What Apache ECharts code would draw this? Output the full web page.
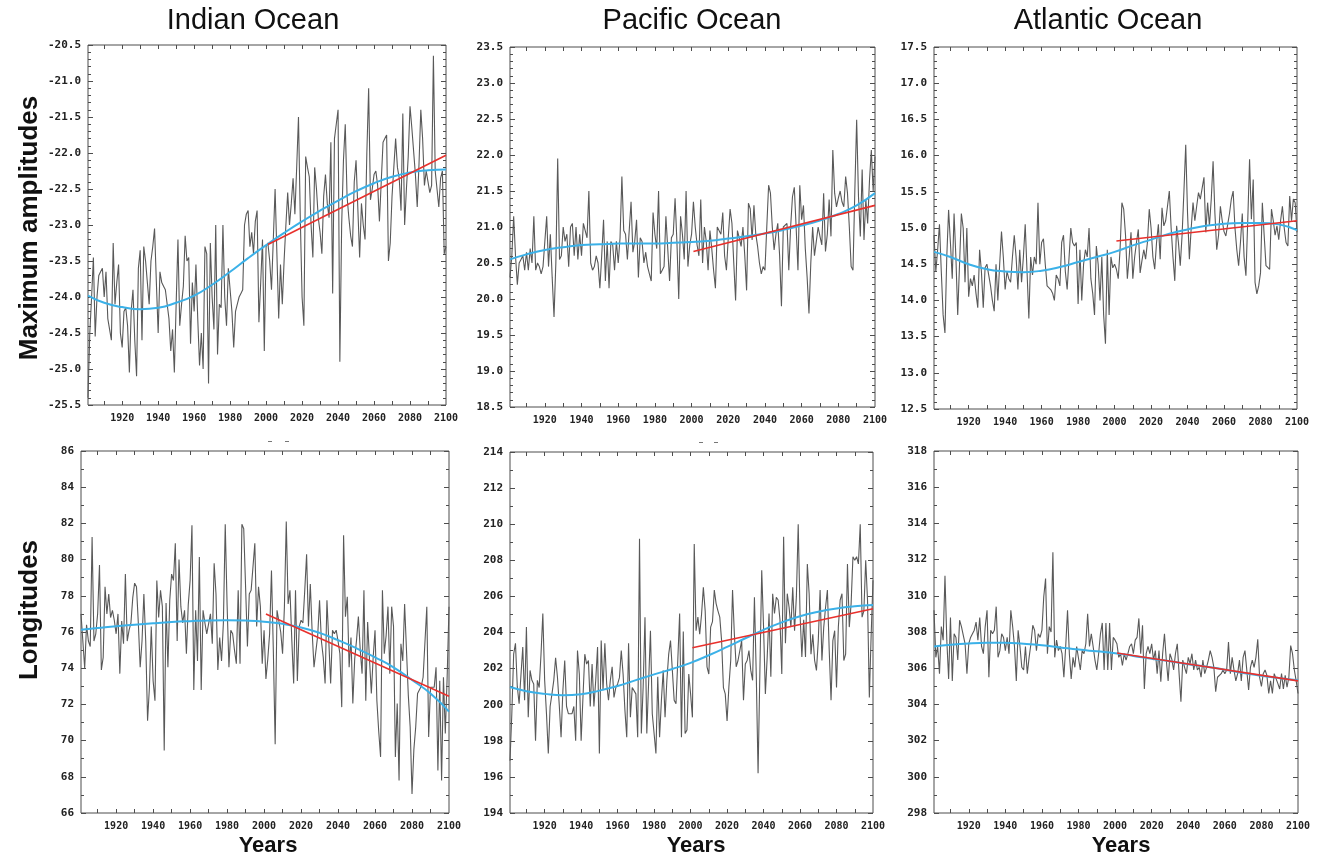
<!DOCTYPE html>
<html>
<head>
<meta charset="utf-8">
<script src="https://cdn.jsdelivr.net/npm/echarts@6/dist/echarts.min.js"></script>
<style>
  html, body { margin: 0; padding: 0; background: #ffffff; }
  #chart { width: 1323px; height: 861px; }
</style>
</head>
<body>
<div id="chart"></div>
<script>
// Yearly series run from 1901 to 2100
const firstYear = 1901;
const lastYear = 2100;

// Column and row headings
const oceanNames = ['Indian Ocean', 'Pacific Ocean', 'Atlantic Ocean'];
const rowNames = ['Maximum amplitudes', 'Longitudes'];
const xAxisName = 'Years';

// x-axis tick marks (every decade) and labelled years
const yearTicks = [1910, 1920, 1930, 1940, 1950, 1960, 1970, 1980, 1990, 2000,
                   2010, 2020, 2030, 2040, 2050, 2060, 2070, 2080, 2090];
const yearLabels = [1920, 1940, 1960, 1980, 2000, 2020, 2040, 2060, 2080, 2100];

// y-axis ranges: [min, max, step]
const indianAmpRange = [-25.5, -20.5, 0.5];
const pacificAmpRange = [18.5, 23.5, 0.5];
const atlanticAmpRange = [12.5, 17.5, 0.5];
const indianLonRange = [66, 86, 2];
const pacificLonRange = [194, 214, 2];
const atlanticLonRange = [298, 318, 2];

// Annual maximum amplitudes, 1901-2100
const indianAmp = [
  -25.4, -24.5, -24.0, -23.45, -24.55, -24.0, -23.7, -23.65, -23.6, -24.0,
  -23.65, -24.3, -24.45, -24.6, -23.25, -24.1, -23.8, -23.55, -24.5, -24.7,
  -24.2, -24.15, -24.4, -25.05, -24.2, -23.9, -24.6, -25.1, -23.6, -23.35,
  -24.6, -23.3, -23.5, -23.8, -24.1, -23.5, -23.3, -23.05, -23.8, -24.5,
  -23.65, -23.8, -23.85, -23.9, -24.1, -24.3, -24.75, -24.45, -25.05, -24.1,
  -23.2, -24.4, -24.1, -23.85, -23.15, -23.5, -23.45, -24.65, -23.8, -24.2,
  -23.55, -24.3, -24.95, -24.5, -25.0, -23.3, -23.4, -25.2, -23.25, -24.0,
  -24.45, -23.0, -24.8, -24.1, -24.15, -23.0, -24.0, -24.4, -23.6, -23.6,
  -24.2, -24.7, -24.2, -24.1, -24.0, -23.95, -23.9, -23.0, -22.85, -22.8,
  -23.3, -23.1, -23.4, -22.95, -22.8, -24.35, -23.8, -23.2, -24.75, -23.3,
  -23.25, -23.5, -23.9, -23.2, -22.5, -23.4, -24.3, -23.55, -24.1, -23.5,
  -23.0, -22.55, -23.0, -22.7, -22.35, -22.85, -22.2, -21.5, -22.9, -24.0,
  -24.4, -22.05, -22.2, -22.33, -23.0, -23.45, -22.2, -22.5, -22.9, -23.1,
  -23.4, -22.6, -22.3, -22.7, -22.9, -21.85, -23.95, -21.8, -21.6, -21.4,
  -24.9, -23.0, -22.1, -21.6, -22.6, -22.9, -23.15, -23.3, -22.4, -22.1,
  -22.1, -23.45, -22.7, -23.0, -23.2, -22.0, -21.1, -22.65, -22.5, -22.3,
  -22.25, -22.45, -22.95, -22.4, -21.85, -21.8, -21.75, -23.5, -23.25, -22.6,
  -22.2, -21.8, -22.2, -22.35, -22.8, -21.45, -23.0, -22.5, -22.05, -21.35,
  -21.65, -21.65, -22.3, -22.75, -22.15, -21.4, -21.8, -22.45, -22.25, -22.25,
  -22.55, -22.45, -20.65, -22.25, -22.5, -22.75, -22.35, -22.25, -23.4, -23.3
];
const pacificAmp = [
  20.3, 20.6, 21.15, 20.6, 20.2, 20.5, 20.55, 20.6, 20.4, 20.65,
  20.4, 20.7, 20.5, 21.15, 20.4, 20.5, 20.45, 20.35, 20.45, 20.8,
  21.15, 20.45, 20.9, 20.3, 19.75, 20.5, 21.95, 20.55, 20.6, 21.0,
  20.8, 20.9, 20.45, 21.0, 21.05, 20.6, 21.0, 20.55, 20.9, 20.6,
  21.05, 20.95, 20.85, 21.5, 20.5, 20.4, 20.45, 20.6, 20.5, 20.15,
  20.6, 21.1, 20.25, 20.8, 20.15, 20.8, 20.75, 20.4, 20.8, 20.5,
  20.85, 21.7, 20.95, 20.9, 20.55, 20.55, 21.35, 20.65, 20.8, 21.1,
  20.3, 20.85, 20.8, 20.5, 20.65, 20.45, 20.35, 20.25, 21.2, 20.9,
  20.7, 21.5, 20.35, 20.4, 20.45, 21.15, 20.7, 20.25, 20.85, 20.9,
  21.4, 20.8, 20.0, 21.15, 20.9, 20.55, 21.5, 20.45, 20.75, 20.9,
  21.35, 21.0, 20.75, 20.6, 21.38, 20.5, 21.0, 20.8, 20.4, 20.95,
  20.7, 20.4, 20.15, 21.0, 21.0, 20.9, 21.2, 20.6, 20.4, 20.85,
  21.25, 21.05, 20.5, 19.98, 20.95, 20.85, 20.73, 21.0, 20.6, 20.12,
  21.33, 21.25, 20.82, 21.3, 20.9, 20.73, 20.5, 20.35, 20.45, 20.4,
  21.0, 21.58, 21.47, 21.0, 20.68, 20.9, 21.05, 20.6, 19.9, 21.0,
  21.0, 21.05, 20.4, 21.0, 21.42, 21.55, 21.0, 20.4, 21.58, 21.1,
  21.3, 20.7, 20.3, 19.8, 20.5, 21.0, 20.6, 20.8, 21.0, 20.87,
  20.75, 21.47, 20.66, 20.9, 21.38, 20.87, 22.07, 21.47, 21.28, 21.4,
  21.5, 21.35, 21.28, 21.7, 21.47, 21.0, 20.45, 20.4, 21.5, 22.49,
  21.42, 20.87, 21.8, 20.82, 21.38, 21.05, 21.65, 22.07, 21.5, 21.98
];
const atlanticAmp = [
  14.9, 14.4, 14.7, 15.05, 14.4, 13.8, 13.55, 14.6, 15.25, 14.8,
  14.3, 15.2, 14.6, 13.8, 14.5, 15.2, 15.0, 14.25, 15.0, 14.05,
  14.3, 14.2, 14.35, 14.1, 13.9, 14.7, 14.4, 13.9, 14.45, 14.5,
  14.35, 14.2, 14.0, 13.85, 14.5, 14.0, 14.5, 14.95, 14.6, 14.15,
  14.4, 14.3, 14.25, 14.6, 14.9, 14.6, 14.15, 14.7, 14.25, 14.6,
  15.05, 14.4, 13.75, 14.6, 14.35, 14.6, 14.5, 15.35, 14.5, 14.8,
  14.85, 14.5, 14.2, 14.2, 14.15, 14.1, 14.0, 14.35, 14.3, 14.2,
  14.8, 14.9, 14.4, 14.15, 14.15, 15.0, 14.8, 14.75, 14.8, 13.95,
  14.7, 14.0, 14.5, 14.7, 14.6, 15.0, 14.3, 14.1, 13.8, 14.75,
  14.5, 14.0, 14.6, 13.8, 13.4, 14.7, 13.8, 14.6, 14.45, 14.5,
  14.43, 14.3, 14.7, 15.35, 15.26, 14.9, 14.3, 14.6, 14.94, 14.3,
  14.6, 14.8, 14.98, 14.38, 14.55, 14.7, 14.57, 14.8, 15.26, 15.0,
  14.6, 14.43, 14.8, 15.05, 14.57, 15.28, 15.03, 15.1, 15.3, 15.51,
  15.0, 14.6, 14.27, 15.03, 14.8, 14.48, 14.9, 15.5, 16.15, 15.2,
  14.57, 15.0, 15.35, 15.1, 15.3, 15.49, 15.4, 15.55, 15.7, 14.94,
  15.35, 15.03, 15.4, 15.92, 15.2, 14.7, 14.9, 15.3, 15.1, 14.95,
  14.89, 15.05, 15.2, 15.4, 15.51, 15.0, 14.7, 14.48, 14.8, 15.2,
  14.6, 14.34, 15.1, 15.95, 15.12, 15.67, 14.25, 14.09, 14.2, 14.38,
  15.35, 14.9, 14.48, 14.5, 14.43, 15.26, 15.1, 14.9, 15.03, 14.84,
  15.1, 15.3, 15.0, 14.8, 14.75, 15.44, 15.1, 15.4, 15.35, 14.94
];

// Annual longitudes of the maximum, 1901-2100
const indianLon = [
  77.0, 76.9, 74.0, 76.4, 75.5, 75.2, 81.25, 75.5, 75.9, 77.0,
  79.7, 73.9, 74.6, 78.5, 77.0, 78.1, 76.8, 77.2, 76.65, 75.9,
  77.0, 73.7, 76.6, 75.35, 79.2, 75.5, 76.1, 76.5, 77.9, 78.7,
  78.5, 76.5, 74.05, 75.5, 78.1, 75.5, 71.1, 72.95, 76.3, 73.3,
  72.2, 78.85, 76.8, 78.3, 77.4, 69.45, 77.6, 74.05, 77.75, 79.2,
  78.85, 80.9, 75.5, 80.0, 77.4, 76.5, 77.2, 74.8, 77.5, 78.85,
  81.9, 72.8, 77.2, 74.4, 80.15, 72.8, 77.2, 76.5, 75.9, 75.9,
  77.0, 75.35, 79.8, 78.1, 73.9, 75.7, 74.4, 76.5, 81.95, 77.5,
  74.05, 76.1, 75.9, 75.0, 74.25, 78.3, 74.25, 81.95, 81.7, 78.5,
  75.2, 78.1, 78.3, 78.4, 80.9, 76.3, 78.5, 77.4, 74.25, 76.1,
  73.4, 74.5, 75.9, 79.4, 75.0, 69.8, 77.2, 77.1, 76.0, 74.8,
  77.4, 82.1, 77.55, 78.3, 75.55, 73.15, 78.3, 73.3, 76.3, 76.65,
  76.5, 78.3, 80.3, 76.3, 78.65, 76.0, 74.05, 74.05, 75.8, 77.75,
  75.5, 74.6, 73.15, 77.75, 75.5, 73.15, 76.1, 75.9, 76.1, 75.5,
  74.8, 71.85, 81.35, 76.85, 77.95, 74.05, 75.7, 72.05, 74.5, 75.55,
  76.85, 75.0, 73.7, 78.3, 72.2, 76.55, 74.5, 72.6, 74.6, 76.1,
  72.2, 70.5, 69.1, 78.3, 74.8, 75.8, 77.4, 73.7, 77.4, 76.3,
  69.1, 72.05, 67.8, 75.35, 74.4, 77.55, 77.55, 72.5, 70.75, 67.05,
  69.5, 70.75, 72.6, 72.6, 73.0, 73.5, 73.5, 77.4, 70.2, 72.95,
  73.0, 72.95, 74.05, 68.35, 73.3, 67.8, 73.5, 70.4, 73.5, 77.4
];
const pacificLon = [
  196.9, 199.5, 202.8, 203.4, 201.0, 200.05, 200.05, 203.2, 200.25, 204.3,
  199.3, 201.9, 201.35, 201.15, 198.0, 201.35, 200.95, 202.8, 205.05, 201.35,
  199.5, 197.3, 199.9, 200.6, 201.35, 202.6, 201.55, 200.0, 198.2, 200.8,
  202.45, 199.9, 199.5, 199.5, 199.5, 199.9, 198.0, 203.0, 201.7, 198.0,
  198.0, 202.8, 202.25, 202.45, 199.9, 202.25, 199.9, 201.35, 203.2, 197.3,
  203.55, 200.8, 203.4, 201.15, 200.25, 201.35, 202.1, 200.4, 200.95, 201.15,
  201.5, 203.0, 201.7, 199.7, 198.2, 203.4, 199.3, 200.95, 200.95, 200.6,
  198.2, 209.2, 198.4, 201.0, 204.85, 198.4, 198.4, 204.1, 199.5, 199.5,
  197.3, 201.55, 198.2, 200.25, 201.9, 199.3, 201.35, 202.8, 203.55, 201.9,
  200.25, 200.05, 202.5, 205.05, 198.2, 204.05, 198.4, 198.6, 201.7, 200.6,
  199.3, 208.9, 204.1, 204.85, 203.9, 205.0, 206.5, 205.2, 202.1, 201.7,
  204.3, 204.6, 206.35, 205.6, 205.2, 204.85, 203.55, 200.95, 200.6, 199.1,
  201.0, 202.45, 206.35, 203.9, 202.1, 202.45, 202.45, 203.55, 200.25, 202.25,
  202.45, 203.0, 201.9, 201.35, 205.95, 201.7, 196.2, 201.9, 207.45, 204.3,
  200.6, 202.65, 205.05, 201.55, 206.15, 205.05, 205.95, 205.8, 204.7, 201.7,
  209.3, 203.4, 206.15, 205.4, 204.3, 206.5, 204.1, 206.0, 210.0, 205.05,
  202.65, 204.7, 202.65, 207.8, 206.15, 202.8, 203.9, 202.45, 201.9, 203.55,
  206.35, 202.45, 204.3, 205.4, 206.35, 203.0, 200.25, 203.55, 204.1, 200.95,
  204.3, 205.8, 206.15, 202.45, 202.8, 207.8, 204.3, 205.6, 208.2, 208.0,
  208.2, 207.8, 210.0, 204.85, 205.2, 208.0, 205.8, 200.4, 203.9, 206.9
];
const atlanticLon = [
  309.2, 306.6, 307.2, 305.7, 308.3, 307.55, 311.1, 307.55, 305.4, 308.8,
  305.3, 307.9, 307.7, 306.45, 308.65, 308.3, 308.3, 307.35, 305.7, 307.35,
  307.7, 307.8, 308.1, 308.55, 307.55, 308.8, 307.2, 306.8, 308.3, 309.2,
  305.5, 308.1, 307.9, 308.1, 309.4, 306.6, 306.97, 307.9, 307.7, 306.97,
  307.7, 306.8, 309.2, 308.3, 307.2, 305.3, 308.1, 307.2, 306.05, 305.9,
  307.2, 305.7, 306.6, 307.35, 308.37, 308.1, 306.97, 307.9, 307.7, 308.1,
  309.95, 310.95, 306.8, 308.3, 308.0, 312.4, 306.6, 307.55, 306.97, 307.2,
  306.8, 305.5, 307.2, 309.2, 306.8, 305.4, 306.6, 306.05, 307.2, 307.2,
  305.9, 306.97, 306.8, 307.35, 309.0, 307.2, 307.9, 307.2, 306.45, 305.9,
  306.8, 307.9, 308.5, 305.9, 308.5, 305.9, 308.5, 305.9, 307.7, 307.55,
  307.35, 306.6, 306.8, 306.15, 306.8, 306.45, 306.8, 307.2, 307.35, 306.8,
  307.55, 307.7, 308.75, 306.8, 308.37, 304.85, 306.8, 307.2, 306.8, 307.35,
  306.45, 306.97, 305.7, 306.97, 305.25, 306.8, 307.9, 306.45, 305.3, 306.8,
  306.5, 305.9, 306.8, 307.35, 305.7, 304.15, 306.45, 306.05, 305.7, 306.6,
  306.25, 306.8, 305.9, 306.45, 305.9, 306.05, 305.5, 306.45, 305.7, 306.05,
  306.45, 306.97, 306.6, 306.05, 304.7, 305.5, 305.5, 305.7, 305.9, 305.7,
  305.9, 307.45, 305.7, 306.6, 305.9, 305.3, 305.7, 306.45, 305.3, 306.6,
  306.97, 305.9, 304.8, 306.05, 306.45, 306.05, 306.6, 307.6, 305.5, 305.0,
  305.7, 305.9, 305.6, 304.6, 305.3, 304.6, 305.7, 305.7, 305.15, 304.85,
  305.7, 304.85, 305.6, 304.95, 305.5, 307.25, 306.8, 305.9, 305.3, 304.6
];

// Smooth fitted curves, sampled at these years
const fitYears = [1901, 1910, 1920, 1930, 1940, 1950, 1960, 1970, 1980, 1990, 2000,
                  2010, 2020, 2030, 2040, 2050, 2060, 2070, 2080, 2090, 2100];
const indianAmpFit = [-23.98, -24.08, -24.14, -24.17, -24.15, -24.08, -23.98, -23.83, -23.65, -23.46, -23.28,
                      -23.11, -22.95, -22.8, -22.66, -22.53, -22.42, -22.33, -22.27, -22.24, -22.23];
const pacificAmpFit = [20.55, 20.62, 20.68, 20.72, 20.75, 20.76, 20.77, 20.77, 20.77, 20.78, 20.79,
                       20.81, 20.84, 20.87, 20.91, 20.96, 21.02, 21.09, 21.18, 21.3, 21.47];
const atlanticAmpFit = [14.67, 14.6, 14.5, 14.43, 14.4, 14.39, 14.41, 14.46, 14.53, 14.6, 14.67,
                        14.76, 14.84, 14.92, 14.98, 15.03, 15.06, 15.07, 15.07, 15.05, 14.97];
const indianLonFit = [76.13, 76.22, 76.32, 76.4, 76.48, 76.55, 76.6, 76.64, 76.65, 76.63, 76.57,
                      76.45, 76.25, 75.95, 75.55, 75.1, 74.6, 74.05, 73.35, 72.6, 71.6];
const pacificLonFit = [200.98, 200.75, 200.6, 200.52, 200.58, 200.78, 201.04, 201.36, 201.68, 201.98, 202.32,
                       202.74, 203.2, 203.68, 204.15, 204.56, 204.9, 205.15, 205.33, 205.45, 205.52];
const atlanticLonFit = [307.2, 307.3, 307.37, 307.4, 307.4, 307.35, 307.27, 307.15, 307.03, 306.93, 306.83,
                        306.68, 306.52, 306.38, 306.22, 306.08, 305.92, 305.73, 305.58, 305.45, 305.33];

// Linear trends for the 21st century
const trendYears = [2001, 2100];
const indianAmpTrend = [-23.27, -22.03];
const pacificAmpTrend = [20.66, 21.3];
const atlanticAmpTrend = [14.82, 15.1];
const indianLonTrend = [77.0, 72.45];
const pacificLonTrend = [203.16, 205.32];
const atlanticLonTrend = [306.84, 305.3];

// ---------------------------------------------------------------------------

const frameColor = '#4d4d4d';
const tickFont = '"DejaVu Sans Mono", monospace';

const panels = [
  { values: indianAmp,   fit: indianAmpFit,   trend: indianAmpTrend,   range: indianAmpRange,   dec: 1, minor: 5, box: [88, 45, 358, 360] },
  { values: pacificAmp,  fit: pacificAmpFit,  trend: pacificAmpTrend,  range: pacificAmpRange,  dec: 1, minor: 5, box: [510, 47, 365, 360] },
  { values: atlanticAmp, fit: atlanticAmpFit, trend: atlanticAmpTrend, range: atlanticAmpRange, dec: 1, minor: 5, box: [934, 47, 363, 362] },
  { values: indianLon,   fit: indianLonFit,   trend: indianLonTrend,   range: indianLonRange,   dec: 0, minor: 2, box: [81, 451, 368, 362] },
  { values: pacificLon,  fit: pacificLonFit,  trend: pacificLonTrend,  range: pacificLonRange,  dec: 0, minor: 2, box: [510, 452, 363, 361] },
  { values: atlanticLon, fit: atlanticLonFit, trend: atlanticLonTrend, range: atlanticLonRange, dec: 0, minor: 2, box: [934, 451, 364, 362] }
];

const grid = [], xAxis = [], yAxis = [], series = [];

panels.forEach((p, i) => {
  const [left, top, width, height] = p.box;
  grid.push({ left, top, width, height, show: true, borderColor: frameColor, borderWidth: 1 });

  const xBase = {
    type: 'value', gridIndex: i, min: firstYear, max: lastYear,
    splitLine: { show: false },
    axisLine: { show: false },
    axisTick: { inside: true, length: 4, customValues: yearTicks, lineStyle: { color: frameColor, width: 1 } }
  };
  xAxis.push(Object.assign({}, xBase, {
    position: 'bottom',
    axisLabel: {
      customValues: yearLabels, margin: 8,
      fontFamily: tickFont, fontWeight: 'bold', fontSize: 10, color: '#222',
      formatter: v => String(v)
    }
  }));
  xAxis.push(Object.assign({}, xBase, { position: 'top', axisLabel: { show: false } }));

  const yBase = {
    type: 'value', gridIndex: i, min: p.range[0], max: p.range[1], interval: p.range[2],
    splitLine: { show: false },
    minorSplitLine: { show: false },
    axisLine: { show: false },
    axisTick: { inside: true, length: 5, lineStyle: { color: frameColor, width: 1 } },
    minorTick: { show: true, splitNumber: p.minor, length: 3, lineStyle: { color: frameColor, width: 1 } }
  };
  yAxis.push(Object.assign({}, yBase, {
    position: 'left',
    axisLabel: {
      margin: 7, fontFamily: tickFont, fontWeight: 'bold', fontSize: 11, color: '#222',
      formatter: v => v.toFixed(p.dec)
    }
  }));
  yAxis.push(Object.assign({}, yBase, { position: 'right', axisLabel: { show: false } }));

  const ax = { xAxisIndex: 2 * i, yAxisIndex: 2 * i };
  series.push(Object.assign({
    type: 'line', showSymbol: false, silent: true, z: 2,
    data: p.values.map((v, k) => [firstYear + k, v]),
    lineStyle: { color: '#595959', width: 1.1 }
  }, ax));
  series.push(Object.assign({
    type: 'line', showSymbol: false, silent: true, z: 3, smooth: true,
    data: p.fit.map((v, k) => [fitYears[k], v]),
    lineStyle: { color: '#3bb1e8', width: 2 }
  }, ax));
  series.push(Object.assign({
    type: 'line', showSymbol: false, silent: true, z: 4,
    data: p.trend.map((v, k) => [trendYears[k], v]),
    lineStyle: { color: '#e8302c', width: 1.6 }
  }, ax));
});

// Headings and axis names
const titleFont = '29px "Liberation Sans", Arial, sans-serif';
const rowFont = 'bold 26px "Liberation Sans", Arial, sans-serif';
const yearsFont = 'bold 22px "Liberation Sans", Arial, sans-serif';

const graphic = [];
[253, 692, 1108].forEach((x, c) => {
  graphic.push({ type: 'text', x, y: 21, style: { text: oceanNames[c], font: titleFont, fill: '#111', align: 'center', verticalAlign: 'middle' } });
});
[[30, 228], [30, 610]].forEach(([x, y], r) => {
  graphic.push({ type: 'text', x, y, rotation: Math.PI / 2, style: { text: rowNames[r], font: rowFont, fill: '#111', align: 'center', verticalAlign: 'middle' } });
});
[268, 696, 1121].forEach(x => {
  graphic.push({ type: 'text', x, y: 846, style: { text: xAxisName, font: yearsFont, fill: '#111', align: 'center', verticalAlign: 'middle' } });
});
// small dashes above the lower panels
[[270, 441], [287, 441], [701, 442], [716, 442]].forEach(([x, y]) => {
  graphic.push({ type: 'rect', shape: { x: x - 2, y, width: 4, height: 1 }, style: { fill: '#777' } });
});

const chart = echarts.init(document.getElementById('chart'));
chart.setOption({
  animation: false,
  backgroundColor: '#ffffff',
  grid, xAxis, yAxis, series, graphic
});
</script>
</body>
</html>
